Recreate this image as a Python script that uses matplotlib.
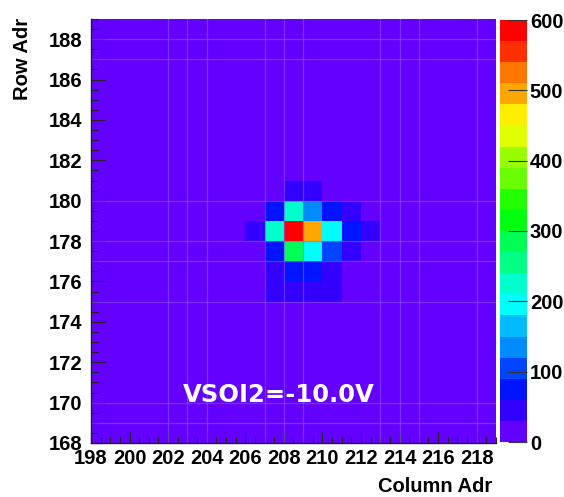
import colorsys
import numpy as np
import matplotlib
matplotlib.use("Agg")
import matplotlib.pyplot as plt
from matplotlib.colors import ListedColormap, BoundaryNorm

# ---- data ----
col_edges = list(range(198, 220))      # Column Adr bin edges 198..219
row_edges = list(range(168, 190))      # Row Adr bin edges 168..189
x_ticks = list(range(198, 219, 2))
y_ticks = list(range(168, 189, 2))
cbar_ticks = [0, 100, 200, 300, 400, 500, 600]
zmin, zmax, n_levels = 0, 600, 20
label_text = "VSOI2=-10.0V"

# counts[row][col], rows 168..188 (bottom->top), cols 198..218
counts = [
    [10, 10, 10, 10, 10, 10, 10, 10, 10, 10, 10, 10, 10, 10, 10, 10, 10, 10, 10, 10, 10],  # 168
    [10, 10, 10, 10, 10, 10, 10, 10, 10, 10, 10, 10, 10, 10, 10, 10, 10, 10, 10, 10, 10],  # 169
    [10, 10, 10, 10, 10, 10, 10, 10, 10, 10, 10, 10, 10, 10, 10, 10, 10, 10, 10, 10, 10],  # 170
    [10, 10, 10, 10, 10, 10, 10, 10, 10, 10, 10, 10, 10, 10, 10, 10, 10, 10, 10, 10, 10],  # 171
    [10, 10, 10, 10, 10, 10, 10, 10, 10, 10, 10, 10, 10, 10, 10, 10, 10, 10, 10, 10, 10],  # 172
    [10, 10, 10, 10, 10, 10, 10, 10, 10, 10, 10, 10, 10, 10, 10, 10, 10, 10, 10, 10, 10],  # 173
    [10, 10, 10, 10, 10, 10, 10, 10, 10, 10, 10, 10, 10, 10, 10, 10, 10, 10, 10, 10, 10],  # 174
    [10, 10, 10, 10, 10, 10, 10, 10, 10, 35, 40, 38, 35, 10, 10, 10, 10, 10, 10, 10, 10],  # 175
    [10, 10, 10, 10, 10, 10, 10, 10, 10, 45, 70, 65, 40, 10, 10, 10, 10, 10, 10, 10, 10],  # 176
    [10, 10, 10, 10, 10, 10, 10, 10, 10, 75, 285, 195, 105, 40, 10, 10, 10, 10, 10, 10, 10],  # 177
    [10, 10, 10, 10, 10, 10, 10, 10, 40, 215, 590, 505, 195, 70, 40, 10, 10, 10, 10, 10, 10],  # 178
    [10, 10, 10, 10, 10, 10, 10, 10, 10, 75, 225, 140, 80, 45, 10, 10, 10, 10, 10, 10, 10],  # 179
    [10, 10, 10, 10, 10, 10, 10, 10, 10, 10, 45, 40, 10, 10, 10, 10, 10, 10, 10, 10, 10],  # 180
    [10, 10, 10, 10, 10, 10, 10, 10, 10, 10, 10, 10, 10, 10, 10, 10, 10, 10, 10, 10, 10],  # 181
    [10, 10, 10, 10, 10, 10, 10, 10, 10, 10, 10, 10, 10, 10, 10, 10, 10, 10, 10, 10, 10],  # 182
    [10, 10, 10, 10, 10, 10, 10, 10, 10, 10, 10, 10, 10, 10, 10, 10, 10, 10, 10, 10, 10],  # 183
    [10, 10, 10, 10, 10, 10, 10, 10, 10, 10, 10, 10, 10, 10, 10, 10, 10, 10, 10, 10, 10],  # 184
    [10, 10, 10, 10, 10, 10, 10, 10, 10, 10, 10, 10, 10, 10, 10, 10, 10, 10, 10, 10, 10],  # 185
    [10, 10, 10, 10, 10, 10, 10, 10, 10, 10, 10, 10, 10, 10, 10, 10, 10, 10, 10, 10, 10],  # 186
    [10, 10, 10, 10, 10, 10, 10, 10, 10, 10, 10, 10, 10, 10, 10, 10, 10, 10, 10, 10, 10],  # 187
    [10, 10, 10, 10, 10, 10, 10, 10, 10, 10, 10, 10, 10, 10, 10, 10, 10, 10, 10, 10, 10],  # 188
]

# faint rendering seams seen in the reference (bin edges)
seam_cols = [202, 203, 204, 207, 208, 209, 213, 214, 215, 218]
seam_rows = [169, 170, 175, 177, 178, 180, 187, 188]

# ---- ROOT "pretty" palette (50 colours), 20 contour levels ----
pal = []
for i in range(50):
    hue = 280.0 - (i + 1) * (280.0 / 50)
    pal.append(colorsys.hls_to_rgb((hue % 360) / 360.0, 0.5, 1.0))
lev_cols = [pal[int((j + 0.99) * 50 / n_levels)] for j in range(n_levels)]
cmap = ListedColormap(lev_cols)
bounds = np.linspace(zmin, zmax, n_levels + 1)
norm = BoundaryNorm(bounds, cmap.N)

W, H = 564, 497
fig = plt.figure(figsize=(W / 100, H / 100), dpi=100)
ax = fig.add_axes([91 / W, 54 / H, 405 / W, 424 / H])
cax = fig.add_axes([500 / W, 55 / H, 27 / W, 422 / H])

Z = np.array(counts, dtype=float)
mesh = ax.pcolormesh(col_edges, row_edges, Z, cmap=cmap, norm=norm,
                     shading="flat", edgecolors="none", zorder=1)
for c in seam_cols:
    ax.axvline(c, color="#8c55ff", lw=0.9, alpha=0.6, zorder=2)
for r in seam_rows:
    ax.axhline(r, color="#8c55ff", lw=0.9, alpha=0.6, zorder=2)

ax.set_xlim(col_edges[0], col_edges[-1])
ax.set_ylim(row_edges[0], row_edges[-1])

tick_font = dict(family="Liberation Sans", weight="bold", size=14.5)
ax.set_xticks(x_ticks)
ax.set_yticks(y_ticks)
ax.set_xticklabels([str(v) for v in x_ticks], fontdict=tick_font)
ax.set_yticklabels([str(v) for v in y_ticks], fontdict=tick_font)
ax.set_xticks(np.arange(col_edges[0], col_edges[-1] + 0.01, 0.5), minor=True)
ax.set_yticks(np.arange(row_edges[0], row_edges[-1] + 0.01, 0.5), minor=True)
ax.tick_params(axis="x", which="major", direction="in", length=8, width=0.8,
               color="#222222", pad=4, top=False)
ax.tick_params(axis="x", which="minor", direction="in", length=4, width=0.8,
               color="#222222", top=False)
ax.tick_params(axis="y", which="major", direction="in", length=10, width=0.8,
               color="#222222", pad=6, right=False)
ax.tick_params(axis="y", which="minor", direction="in", length=5, width=0.8,
               color="#222222", right=False)
for s in ["top", "right"]:
    ax.spines[s].set_visible(False)
for s in ["left", "bottom"]:
    ax.spines[s].set_color("#222222")
    ax.spines[s].set_linewidth(1.0)
    ax.spines[s].set_zorder(5)

ax.text(202.75, 170.4, label_text, color="white", fontsize=17.5,
        family="DejaVu Sans", weight="bold", ha="left", va="center", zorder=6)

# colour bar
cb = fig.colorbar(mesh, cax=cax, ticks=cbar_ticks, boundaries=bounds)
cb.outline.set_visible(False)
cax.yaxis.set_ticks_position("right")
cax.tick_params(axis="y", direction="in", length=14, width=0.8, color="#333333",
                pad=2)
cax.set_yticklabels([str(v) for v in cbar_ticks], fontdict=tick_font)
cax.minorticks_off()

fig.text(492 / W, 1 - 487 / H, "Column Adr", ha="right", va="center",
         family="Liberation Sans", weight="bold", fontsize=14.5)
fig.text(22 / W, 1 - 18 / H, "Row Adr", ha="center", va="top", rotation=90,
         family="Liberation Sans", weight="bold", fontsize=14.5)

fig.savefig("out.png", dpi=100)
